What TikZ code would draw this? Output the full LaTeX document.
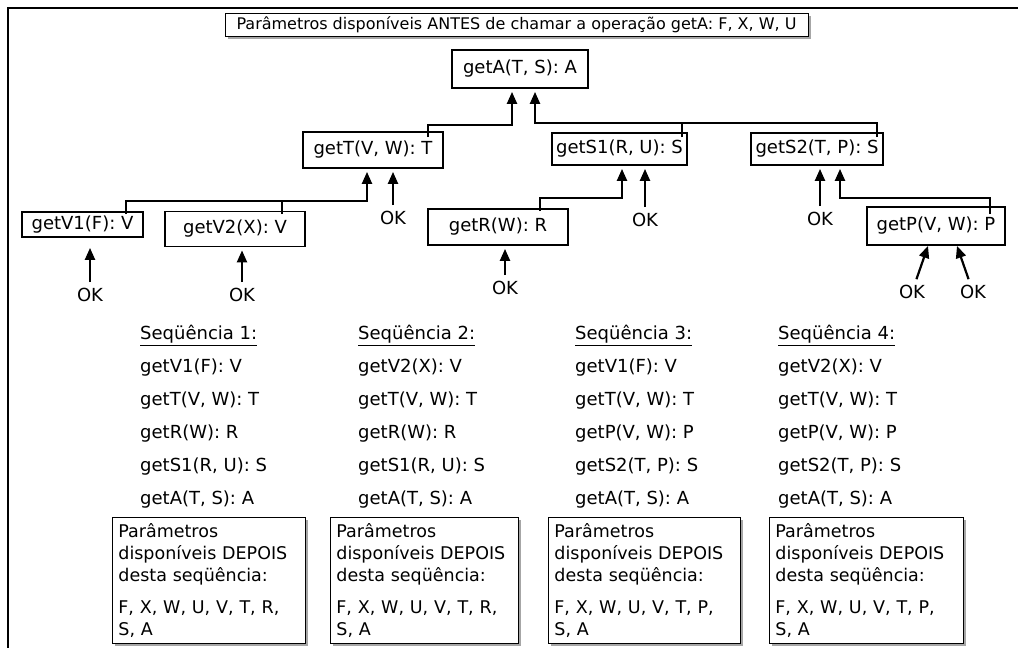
\documentclass[tikz,border=0pt]{standalone}
\usepackage{fontspec}
\setmainfont{DejaVu Sans}
\usetikzlibrary{arrows.meta,shadows}

\begin{document}
\begin{tikzpicture}[x=1pt,y=-1pt, every node/.style={font=\fontsize{18}{21}\selectfont}]
  \tikzset{
    callbox/.style={draw, line width=1.8pt, inner sep=0pt, align=center},
    okmark/.style={inner sep=0pt, outer sep=6pt},
    arr/.style={line width=2.2pt, -{Triangle[length=12pt,width=10pt]}, shorten >=3pt},
    bus/.style={line width=1.8pt},
    notebox/.style={draw, line width=0.8pt, fill=white, anchor=north west, align=left,
      inner xsep=6pt, inner ysep=4pt, minimum height=126pt,
      drop shadow={shadow xshift=3pt, shadow yshift=-3pt, fill=black!35, opacity=1}}
  }
  \useasboundingbox (0,0) rectangle (1018,648);
  % frame
  \draw[line width=1.5pt] (8,648) -- (8,8) -- (1018,8);
  \node[draw, line width=0.8pt, fill=white, minimum width=583pt, minimum height=23pt, inner sep=0pt,
    font=\fontsize{16}{19}\selectfont, drop shadow={shadow xshift=3pt, shadow yshift=-3pt, fill=black!35, opacity=1}]
    (before) at (516.5,24.5) {Parâmetros disponíveis ANTES de chamar a operação getA: F, X, W, U};
  % call tree
  \node[callbox, minimum width=136pt, minimum height=38pt] (getA) at (520,69) {getA(T, S): A};
  \node[callbox, minimum width=140pt, minimum height=36pt] (getT) at (373,150) {getT(V, W): T};
  \node[callbox, minimum width=135pt, minimum height=32pt] (getS1) at (619.5,149) {getS1(R, U): S};
  \node[callbox, minimum width=132pt, minimum height=32pt] (getS2) at (817,149) {getS2(T, P): S};
  \node[callbox, minimum width=121pt, minimum height=25pt] (getV1) at (82.5,224.5) {getV1(F): V};
  \node[callbox, minimum width=140pt, minimum height=35pt] (getV2) at (235,229) {getV2(X): V};
  \node[callbox, minimum width=140pt, minimum height=36pt] (getR) at (498,227) {getR(W): R};
  \node[callbox, minimum width=138pt, minimum height=38pt] (getP) at (936,226) {getP(V, W): P};
  % return values
  \coordinate (rT) at (428,137);
  \coordinate (rS1) at (682,137);
  \coordinate (rS2) at (877,137);
  \coordinate (rV1) at (126,214);
  \coordinate (rV2) at (282,214);
  \coordinate (rR) at (540,211);
  \coordinate (rP) at (990,214);
  \draw[arr] (rT) -- ++(0,-12) -| ([xshift=-8pt]getA.south);
  \draw[arr] (rS2) -- ++(0,-14) -| ([xshift=15pt]getA.south);
  \draw[bus] (rS1) -- ++(0,-14);
  \draw[arr] (rV1) -- ++(0,-13) -| ([xshift=-6pt]getT.south);
  \draw[bus] (rV2) -- ++(0,-13);
  \draw[arr] (rR) -- ++(0,-13) -| ([xshift=2.5pt]getS1.south);
  \draw[arr] (rP) -- ++(0,-16) -| ([xshift=23pt]getS2.south);
  % OK inputs
  \node[okmark] (okV1) at (90,295) {OK};
  \node[okmark] (okV2) at (242,295) {OK};
  \node[okmark] (okT) at (393,218) {OK};
  \node[okmark] (okR) at (505,288) {OK};
  \node[okmark] (okS1) at (645,220) {OK};
  \node[okmark] (okS2) at (820,219) {OK};
  \node[okmark] (okP1) at (912,292) {OK};
  \node[okmark] (okP2) at (973,292) {OK};
  \draw[arr, shorten >=10pt] (okV1) -- (okV1 |- getV1.south);
  \draw[arr] (okV2) -- (okV2 |- getV2.south);
  \draw[arr] (okT) -- (okT |- getT.south);
  \draw[arr] (okR) -- (okR |- getR.south);
  \draw[arr] (okS1) -- (okS1 |- getS1.south);
  \draw[arr] (okS2) -- (okS2 |- getS2.south);
  \draw[arr, shorten >=0pt] (okP1) -- ([xshift=-8pt]getP.south);
  \draw[arr, shorten >=0pt] (okP2) -- ([xshift=21pt]getP.south);
  % sequences
  \node[anchor=north west, inner sep=0pt, align=left, font=\fontsize{18}{33}\selectfont] (seq1) at (140,325)
    {\underline{Seqüência 1:}\\getV1(F): V\\getT(V, W): T\\getR(W): R\\getS1(R, U): S\\getA(T, S): A};
  \node[anchor=north west, inner sep=0pt, align=left, font=\fontsize{18}{33}\selectfont] (seq2) at (358,325)
    {\underline{Seqüência 2:}\\getV2(X): V\\getT(V, W): T\\getR(W): R\\getS1(R, U): S\\getA(T, S): A};
  \node[anchor=north west, inner sep=0pt, align=left, font=\fontsize{18}{33}\selectfont] (seq3) at (575,325)
    {\underline{Seqüência 3:}\\getV1(F): V\\getT(V, W): T\\getP(V, W): P\\getS2(T, P): S\\getA(T, S): A};
  \node[anchor=north west, inner sep=0pt, align=left, font=\fontsize{18}{33}\selectfont] (seq4) at (778,325)
    {\underline{Seqüência 4:}\\getV2(X): V\\getT(V, W): T\\getP(V, W): P\\getS2(T, P): S\\getA(T, S): A};
  % parameters after each sequence
  \node[notebox, text width=181pt, font=\fontsize{17.5}{22}\selectfont] (after1) at (112,517)
    {Parâmetros\\disponíveis DEPOIS\\desta seqüência:\\[10pt]F, X, W, U, V, T, R,\\S, A};
  \node[notebox, text width=176pt, font=\fontsize{17.5}{22}\selectfont] (after2) at (330,517)
    {Parâmetros\\disponíveis DEPOIS\\desta seqüência:\\[10pt]F, X, W, U, V, T, R,\\S, A};
  \node[notebox, text width=180pt, font=\fontsize{17.5}{22}\selectfont] (after3) at (548,517)
    {Parâmetros\\disponíveis DEPOIS\\desta seqüência:\\[10pt]F, X, W, U, V, T, P,\\S, A};
  \node[notebox, text width=182pt, font=\fontsize{17.5}{22}\selectfont] (after4) at (769,517)
    {Parâmetros\\disponíveis DEPOIS\\desta seqüência:\\[10pt]F, X, W, U, V, T, P,\\S, A};
\end{tikzpicture}
\end{document}
